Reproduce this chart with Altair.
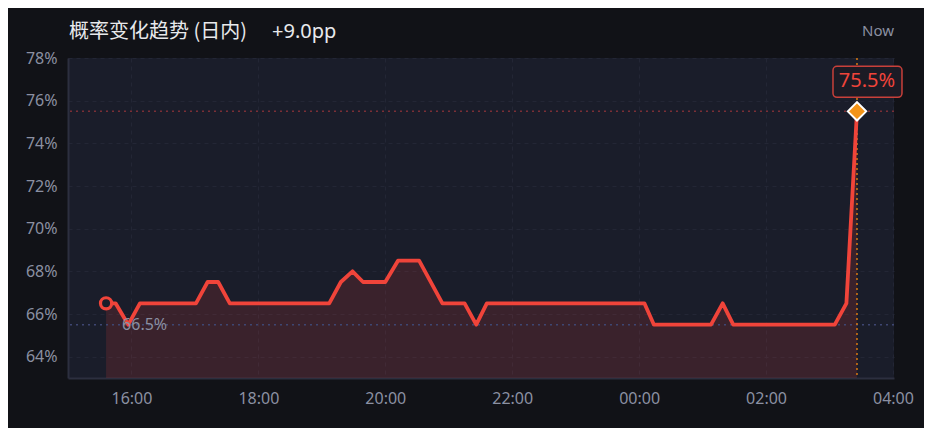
import altair as alt
import pandas as pd

# ---- data ----
times = ["15:36", "15:45", "15:57", "16:08", "17:01", "17:12", "17:22", "17:33",
         "19:07", "19:18", "19:29", "19:39", "20:00", "20:12", "20:32", "20:54",
         "21:15", "21:26", "21:36", "00:05", "00:14", "01:08", "01:19", "01:29",
         "03:05", "03:16", "03:26"]
values = [66.5, 66.5, 65.5, 66.5, 66.5, 67.5, 67.5, 66.5,
          66.5, 67.5, 68.0, 67.5, 67.5, 68.5, 68.5, 66.5,
          66.5, 65.5, 66.5, 66.5, 65.5, 65.5, 66.5, 65.5,
          65.5, 66.5, 75.5]
x_tick_hours = [16, 18, 20, 22, 0, 2, 4]
y_ticks = [64, 66, 68, 70, 72, 74, 76, 78]
title_text = "概率变化趋势 (日内)"
change_text = "+9.0pp"
now_text = "Now"

RED = "#f0443a"
ORANGE = "#f39418"
W, H = 826, 320


def iso(hm):
    h = int(hm.split(":")[0])
    day = 2 if h < 12 else 1
    return f"2024-01-0{day}T{hm}:00"


def dt(h, m=0):
    return alt.DateTime(year=2024, month=1, date=2 if h < 12 else 1, hours=h, minutes=m)


df = pd.DataFrame({"t": [iso(s) for s in times], "v": values})
df["label"] = [f"{v:.1f}%" for v in values]
first = df.iloc[[0]]
last = df.iloc[[-1]]
min_df = pd.DataFrame({"v": [min(values)]})
title_df = pd.DataFrame({"txt": [title_text]})
change_df = pd.DataFrame({"txt": [change_text]})
now_df = pd.DataFrame({"txt": [now_text]})

x_scale = alt.Scale(domain=[dt(15), dt(4, 1)], nice=False)
y_scale = alt.Scale(domain=[63, 78], nice=False, zero=False)
X = alt.X("t:T", scale=x_scale, title=None,
          axis=alt.Axis(values=[dt(h) for h in x_tick_hours], format="%H:%M",
                        labelPadding=12, grid=True))
Y = alt.Y("v:Q", scale=y_scale, title=None,
          axis=alt.Axis(values=y_ticks, labelExpr="datum.value + '%'",
                        labelPadding=11, grid=True))

area = alt.Chart(df).mark_area(color=RED, opacity=0.15).encode(x=X, y=Y, y2=alt.datum(63))
max_rule = alt.Chart(last).mark_rule(color="#7a2f36", strokeDash=[2, 4], strokeWidth=1.5).encode(y=Y)
min_rule = alt.Chart(min_df).mark_rule(color="#3e4672", strokeDash=[2, 4], strokeWidth=1.5).encode(y=Y)
now_rule = alt.Chart(last).mark_rule(color="#d97a12", strokeDash=[2, 3], strokeWidth=1.5).encode(x=X)
line = alt.Chart(df).mark_line(color=RED, strokeWidth=3.8, strokeJoin="round").encode(x=X, y=Y)
start_pt = alt.Chart(first).mark_point(shape="circle", size=125, filled=True, fill="#1a1d2a",
                                       stroke=RED, strokeWidth=3.2, opacity=1).encode(x=X, y=Y)
end_pt = alt.Chart(last).mark_point(shape="diamond", size=340, filled=True, fill=ORANGE,
                                    stroke="white", strokeWidth=2, opacity=1).encode(x=X, y=Y)
box = alt.Chart(last).mark_rect(xOffset=-24, x2Offset=45, yOffset=-45, y2Offset=-14,
                                cornerRadius=4, fill="#1c1b25", stroke="#c9403a",
                                strokeWidth=1.5).encode(x=X, x2=alt.X2("t:T"), y=Y, y2=alt.Y2("v:Q"))
box_text = alt.Chart(last).mark_text(dx=10, dy=-30, fontSize=20, color=RED, font="Noto Sans",
                                     baseline="middle").encode(x=X, y=Y, text="label:N")
start_text = alt.Chart(first).mark_text(dx=16, dy=22, align="left", baseline="middle", fontSize=16,
                                        color="#8b90a2", font="Noto Sans").encode(x=X, y=Y, text="label:N")
title = alt.Chart(title_df).mark_text(align="left", baseline="middle", fontSize=20, color="#e8e9ec",
                                      font="Noto Sans CJK SC").encode(
    x=alt.value(1), y=alt.value(-26), text="txt:N")
change = alt.Chart(change_df).mark_text(align="left", baseline="middle", fontSize=20, color="#e8e9ec",
                                        font="Noto Sans").encode(
    x=alt.value(204), y=alt.value(-26), text="txt:N")
now = alt.Chart(now_df).mark_text(align="right", baseline="middle", fontSize=15, color="#8b90a2",
                                  font="Noto Sans").encode(
    x=alt.value(W), y=alt.value(-27), text="txt:N")

chart = alt.layer(area, max_rule, min_rule, now_rule, line, start_pt, end_pt, box, box_text,
                  start_text, title, change, now).properties(
    width=W, height=H,
    autosize=alt.AutoSizeParams(type="none"),
    padding={"left": 60, "top": 50, "right": 30, "bottom": 50},
).configure(background="#111217").configure_view(
    fill="#1a1d2a", strokeWidth=0
).configure_axis(
    domainColor="#2c2f3f", domainWidth=2, gridColor="#232635", gridDash=[4, 4], gridWidth=1,
    labelColor="#8b90a2", labelFont="Noto Sans", labelFontSize=16, ticks=False
)

chart.save("out.html", embed_options={"renderer": "svg", "actions": False})
